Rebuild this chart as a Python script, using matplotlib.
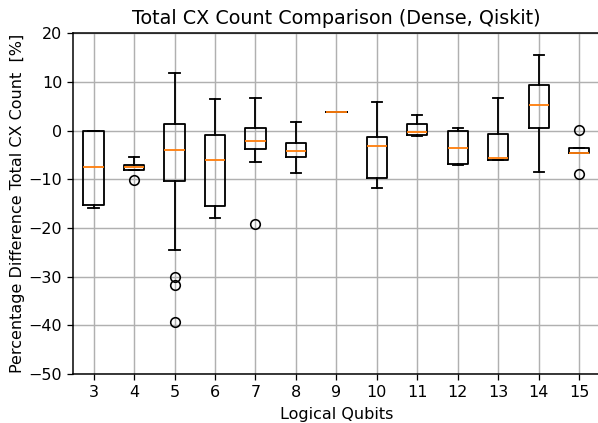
import matplotlib
matplotlib.use("Agg")
import matplotlib.pyplot as plt

# box statistics, one entry per qubit count
qubits = [3, 4, 5, 6, 7, 8, 9, 10, 11, 12, 13, 14, 15]
medians = [-7.5, -7.5, -4.0, -6.0, -2.05, -4.2, 3.9, -3.1, -0.35, -3.56, -5.55, 5.3, -4.5]
q1 = [-15.2, -8.15, -10.3, -15.4, -3.7, -5.5, 3.9, -9.8, -0.9, -6.9, -5.96, 0.5, -4.5]
q3 = [0.0, -7.0, 1.4, -0.9, 0.55, -2.5, 3.9, -1.3, 1.44, -0.07, -0.7, 9.4, -3.5]
whis_lo = [-15.8, -8.15, -24.4, -17.9, -6.4, -8.6, 3.9, -11.8, -1.1, -7.1, -6.0, -8.4, -4.5]
whis_hi = [0.0, -5.4, 11.8, 6.5, 6.8, 1.8, 3.9, 5.8, 3.3, 0.55, 6.7, 15.6, -3.5]
outliers = [[], [-10.2], [-30.0, -31.6, -39.2], [], [-19.1], [], [], [], [], [], [], [], [0.07, -8.9]]

stats = []
for i in range(len(qubits)):
    stats.append({"med": medians[i], "q1": q1[i], "q3": q3[i],
                  "whislo": whis_lo[i], "whishi": whis_hi[i],
                  "fliers": outliers[i], "label": str(qubits[i])})

dpi = 115
fig = plt.figure(figsize=(598 / dpi, 423 / dpi), dpi=dpi)
ax = fig.add_axes([0.1226, 0.1154, 0.8799, 0.8059])
lw = 1.15
ax.bxp(stats, positions=range(1, len(qubits) + 1),
       boxprops={"linewidth": lw}, whiskerprops={"linewidth": lw},
       capprops={"linewidth": lw}, medianprops={"linewidth": lw, "color": "C1"})
ax.set_xlim(0.5, len(qubits) + 0.5)
ax.set_ylim(-50, 20)
ax.grid(True, linewidth=0.9)
for s in ax.spines.values():
    s.set_linewidth(0.95)
ax.set_title("Total CX Count Comparison (Dense, Qiskit)")
ax.set_xlabel("Logical Qubits")
ax.set_ylabel("Percentage Difference Total CX Count  [%]", labelpad=2)
plt.savefig("out.png", dpi=dpi)
